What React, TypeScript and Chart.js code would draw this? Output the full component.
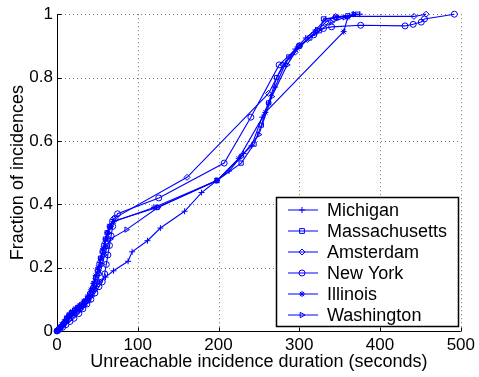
import React, { useEffect, useRef } from "react";
import { Chart, registerables } from "chart.js";

Chart.register(...registerables);

const xTicks = [0, 100, 200, 300, 400, 500];
const yTicks = [0, 0.2, 0.4, 0.6, 0.8, 1];

const seriesNames = ["Michigan", "Massachusetts", "Amsterdam", "New York", "Illinois", "Washington"];

const michiganX = [0, 1, 3, 5, 8, 11, 14, 17, 21, 25, 29, 33, 37, 41, 45, 49, 53, 60, 70, 88, 93, 112, 128, 158, 179, 198, 213, 231, 241, 254, 262, 270, 283, 295, 308, 320, 333, 348, 362, 375];
const michiganY = [0, 0.003, 0.008, 0.014, 0.022, 0.03, 0.04, 0.048, 0.056, 0.064, 0.072, 0.082, 0.094, 0.108, 0.124, 0.14, 0.155, 0.17, 0.19, 0.22, 0.25, 0.285, 0.325, 0.378, 0.437, 0.475, 0.505, 0.56, 0.585, 0.675, 0.72, 0.77, 0.845, 0.89, 0.925, 0.95, 0.985, 0.99, 0.995, 1];

const massX = [0, 2, 4, 7, 10, 12, 15, 18, 22, 26, 30, 34, 38, 41, 44, 46, 48, 50, 52, 54, 56, 58, 60, 62, 65, 68, 124, 198, 228, 244, 253, 262, 272, 287, 300, 313, 325, 330, 345, 360, 372];
const massY = [0, 0.005, 0.012, 0.02, 0.03, 0.04, 0.05, 0.058, 0.066, 0.074, 0.082, 0.092, 0.104, 0.118, 0.132, 0.15, 0.17, 0.19, 0.21, 0.23, 0.25, 0.27, 0.29, 0.31, 0.33, 0.345, 0.39, 0.475, 0.53, 0.59, 0.65, 0.72, 0.8, 0.865, 0.9, 0.925, 0.948, 0.985, 0.99, 0.995, 1];

const amsterdamX = [0, 2, 5, 8, 11, 14, 18, 22, 27, 32, 37, 41, 45, 48, 51, 54, 57, 60, 63, 66, 70, 161, 262, 280, 295, 310, 322, 333, 345, 442, 457];
const amsterdamY = [0, 0.006, 0.014, 0.024, 0.034, 0.046, 0.056, 0.066, 0.076, 0.086, 0.1, 0.12, 0.14, 0.165, 0.19, 0.22, 0.25, 0.28, 0.31, 0.33, 0.355, 0.485, 0.75, 0.84, 0.88, 0.92, 0.95, 0.975, 0.993, 0.993, 1];

const newYorkX = [0, 3, 7, 11, 16, 21, 27, 32, 37, 42, 47, 52, 56, 59, 61, 63, 65, 67, 69, 72, 75, 126, 207, 240, 275, 300, 318, 330, 340, 376, 431, 441, 451, 455, 492];
const newYorkY = [0, 0.005, 0.012, 0.02, 0.03, 0.04, 0.055, 0.07, 0.085, 0.1, 0.12, 0.14, 0.155, 0.18, 0.21, 0.24, 0.27, 0.3, 0.33, 0.355, 0.37, 0.42, 0.53, 0.675, 0.84, 0.9, 0.935, 0.955, 0.96, 0.965, 0.963, 0.968, 0.975, 0.985, 1];

const illinoisX = [0, 2, 4, 6, 9, 12, 15, 19, 23, 28, 33, 38, 42, 45, 48, 51, 54, 57, 60, 63, 66, 70, 120, 198, 225, 258, 355, 360, 367];
const illinoisY = [0, 0.005, 0.012, 0.02, 0.03, 0.042, 0.052, 0.062, 0.072, 0.082, 0.094, 0.11, 0.13, 0.15, 0.175, 0.2, 0.23, 0.26, 0.29, 0.31, 0.33, 0.345, 0.39, 0.475, 0.545, 0.69, 0.945, 0.99, 1];

const washingtonX = [0, 2, 5, 8, 12, 16, 20, 24, 29, 34, 39, 43, 47, 50, 53, 56, 59, 62, 66, 86, 125, 198, 228, 250, 266, 285, 300, 320, 340, 356, 368];
const washingtonY = [0, 0.004, 0.01, 0.018, 0.028, 0.038, 0.048, 0.058, 0.068, 0.08, 0.094, 0.11, 0.13, 0.155, 0.18, 0.21, 0.24, 0.265, 0.29, 0.32, 0.39, 0.475, 0.55, 0.62, 0.74, 0.84, 0.9, 0.94, 0.975, 0.99, 1];

const seriesX = [michiganX, massX, amsterdamX, newYorkX, illinoisX, washingtonX];
const seriesY = [michiganY, massY, amsterdamY, newYorkY, illinoisY, washingtonY];
const markerStyles = ["cross", "rect", "rectRot", "circle", "star", "triangle"];
const markerRot = [0, 0, 0, 0, 0, 90];

const BLUE = "#0000ff";
const FONT = "'Liberation Sans', Arial, Helvetica, sans-serif";

function drawMarker(ctx: CanvasRenderingContext2D, style: string, x: number, y: number, r: number) {
  ctx.beginPath();
  if (style === "cross") {
    ctx.moveTo(x - r, y); ctx.lineTo(x + r, y);
    ctx.moveTo(x, y - r); ctx.lineTo(x, y + r);
  } else if (style === "rect") {
    ctx.rect(x - r * 0.8, y - r * 0.8, r * 1.6, r * 1.6);
  } else if (style === "rectRot") {
    ctx.moveTo(x, y - r); ctx.lineTo(x + r, y); ctx.lineTo(x, y + r); ctx.lineTo(x - r, y); ctx.closePath();
  } else if (style === "circle") {
    ctx.arc(x, y, r, 0, Math.PI * 2);
  } else if (style === "star") {
    ctx.moveTo(x - r, y); ctx.lineTo(x + r, y);
    ctx.moveTo(x, y - r); ctx.lineTo(x, y + r);
    const d = r * 0.707;
    ctx.moveTo(x - d, y - d); ctx.lineTo(x + d, y + d);
    ctx.moveTo(x - d, y + d); ctx.lineTo(x + d, y - d);
  } else if (style === "triangle") {
    ctx.moveTo(x + r, y); ctx.lineTo(x - r * 0.6, y - r * 0.9); ctx.lineTo(x - r * 0.6, y + r * 0.9); ctx.closePath();
  }
  ctx.stroke();
}

const gridPlugin = {
  id: "matlabGrid",
  beforeDatasetsDraw(chart: any) {
    const { ctx, chartArea } = chart;
    const xs = chart.scales.x;
    const ys = chart.scales.y;
    ctx.save();
    ctx.strokeStyle = "rgba(0,0,0,0.55)";
    ctx.lineWidth = 1;
    ctx.setLineDash([1, 3]);
    xTicks.forEach((t) => {
      if (t === 0) return;
      const px = Math.round(xs.getPixelForValue(t)) + 0.5;
      ctx.beginPath(); ctx.moveTo(px, chartArea.top); ctx.lineTo(px, chartArea.bottom); ctx.stroke();
    });
    yTicks.forEach((t) => {
      if (t === 0) return;
      const py = Math.round(ys.getPixelForValue(t)) + 0.5;
      ctx.beginPath(); ctx.moveTo(chartArea.left, py); ctx.lineTo(chartArea.right, py); ctx.stroke();
    });
    ctx.setLineDash([]);
    ctx.strokeStyle = "#000";
    ctx.lineWidth = 1;
    const l = Math.round(chartArea.left) + 0.5;
    const b = Math.round(chartArea.bottom) + 0.5;
    ctx.beginPath();
    ctx.moveTo(l, chartArea.top); ctx.lineTo(l, b); ctx.lineTo(chartArea.right, b);
    ctx.stroke();
    xTicks.forEach((t) => {
      const px = Math.round(xs.getPixelForValue(t)) + 0.5;
      ctx.beginPath(); ctx.moveTo(px, b); ctx.lineTo(px, b - 4); ctx.stroke();
    });
    yTicks.forEach((t) => {
      const py = Math.round(ys.getPixelForValue(t)) + 0.5;
      ctx.beginPath(); ctx.moveTo(l, py); ctx.lineTo(l + 4, py); ctx.stroke();
    });
    ctx.restore();
  },
};

const legendPlugin = {
  id: "boxLegend",
  afterDraw(chart: any) {
    const { ctx } = chart;
    ctx.save();
    const left = 276.5, top = 197.5, w = 182, h = 129;
    ctx.fillStyle = "#fff";
    ctx.fillRect(left, top, w, h);
    ctx.strokeStyle = "#000";
    ctx.lineWidth = 1.5;
    ctx.strokeRect(left, top, w, h);
    ctx.font = `18px ${FONT}`;
    ctx.textBaseline = "middle";
    ctx.textAlign = "left";
    seriesNames.forEach((name, i) => {
      const y = 210 + i * 21;
      ctx.strokeStyle = BLUE;
      ctx.lineWidth = 1;
      ctx.beginPath(); ctx.moveTo(288, y); ctx.lineTo(318, y); ctx.stroke();
      drawMarker(ctx, markerStyles[i], 302, y, 3);
      ctx.fillStyle = "#000";
      ctx.fillText(name, 327, y + 1);
    });
    ctx.restore();
  },
};

export default function App() {
  const ref = useRef<HTMLCanvasElement>(null);
  useEffect(() => {
    document.body.style.margin = "0";
    if (!ref.current) return;
    const datasets = seriesNames.map((name, i) => ({
      label: name,
      data: seriesX[i].map((x, j) => ({ x, y: seriesY[i][j] })),
      borderColor: BLUE,
      backgroundColor: "rgba(0,0,0,0)",
      borderWidth: 1.1,
      pointStyle: markerStyles[i],
      pointRotation: markerRot[i],
      pointRadius: 3,
      pointBorderWidth: 1,
      pointBorderColor: BLUE,
      pointBackgroundColor: "rgba(0,0,0,0)",
      showLine: true,
      tension: 0,
      clip: false as any,
    }));
    const chart = new Chart(ref.current, {
      type: "scatter",
      data: { datasets },
      options: {
        animation: false,
        responsive: false,
        layout: { padding: { top: 11, right: 16, left: 0, bottom: 0 } },
        plugins: { legend: { display: false }, tooltip: { enabled: false } },
        scales: {
          x: {
            type: "linear",
            min: 0,
            max: 500,
            afterBuildTicks: (s: any) => { s.ticks = xTicks.map((v) => ({ value: v })); },
            afterFit: (s: any) => { s.height = 46; },
            grid: { display: false, drawTicks: false },
            border: { display: false },
            ticks: { color: "#000", font: { family: FONT, size: 17 }, padding: 4, maxRotation: 0 },
            title: { display: true, text: "Unreachable incidence duration (seconds)", color: "#000", font: { family: FONT, size: 18 }, padding: { top: 0, bottom: 4 } },
          },
          y: {
            type: "linear",
            min: 0,
            max: 1,
            afterBuildTicks: (s: any) => { s.ticks = yTicks.map((v) => ({ value: v })); },
            afterFit: (s: any) => { s.width = 57; },
            grid: { display: false, drawTicks: false },
            border: { display: false },
            ticks: { color: "#000", font: { family: FONT, size: 17 }, padding: 4, callback: (v: any) => String(Math.round(Number(v) * 10) / 10) },
            title: { display: true, text: "Fraction of incidences", color: "#000", font: { family: FONT, size: 18 }, padding: { top: 7, bottom: 0 } },
          },
        },
      },
      plugins: [gridPlugin, legendPlugin],
    });
    return () => chart.destroy();
  }, []);
  return <canvas ref={ref} width={479} height={377} style={{ display: "block" }} />;
}
